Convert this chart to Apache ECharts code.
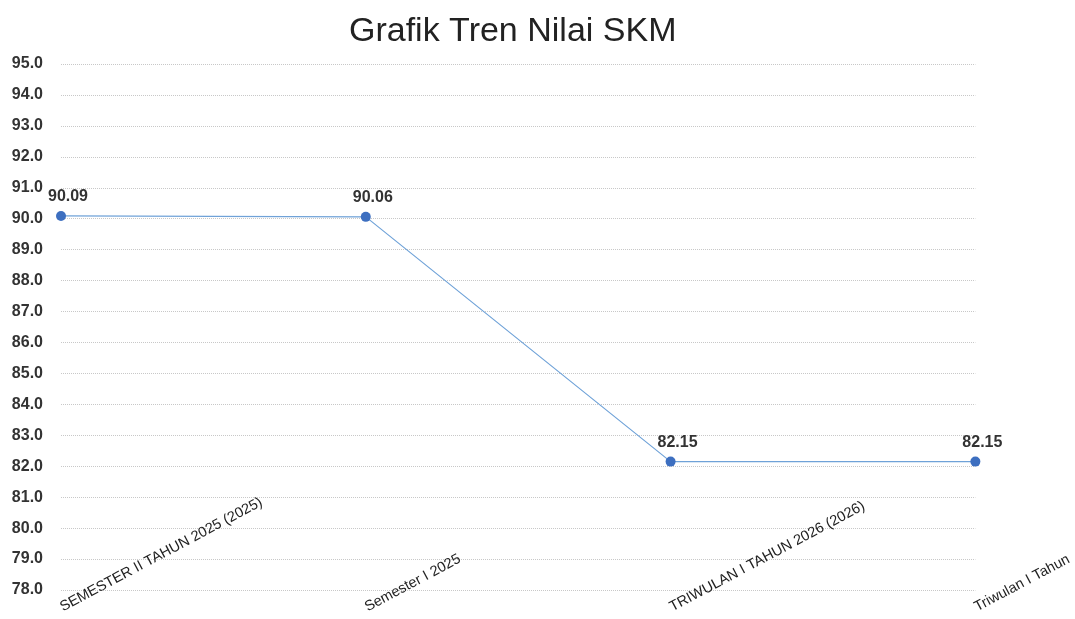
<!DOCTYPE html>
<html>
<head>
<meta charset="utf-8">
<script src="https://cdn.jsdelivr.net/npm/echarts@6/dist/echarts.min.js"></script>
<style>
  html, body { margin: 0; padding: 0; background: #fff; }
  #chart { width: 1075px; height: 619px; }
</style>
</head>
<body>
<div id="chart"></div>
<script>
  const categories = [
    "SEMESTER II TAHUN 2025 (2025)",
    "Semester I 2025",
    "TRIWULAN I TAHUN 2026 (2026)",
    "Triwulan I Tahun"
  ];
  const skmValues = [90.09, 90.06, 82.15, 82.15];
  const yMin = 78;
  const yMax = 95;

  let chart = echarts.init(document.getElementById('chart'));

  chart.setOption({
    animation: false,
    title: {
      text: "Grafik Tren Nilai SKM",
      left: 344,
      top: 10,
      textStyle: { fontFamily: 'Liberation Sans, Arial', fontSize: 34, fontWeight: 'normal', color: '#222' }
    },
    grid: { left: 61, right: 94, top: 64, bottom: 29, containLabel: false },
    xAxis: {
      type: 'category',
      boundaryGap: false,
      data: categories,
      axisLine: { show: false },
      axisTick: { show: false },
      axisLabel: {
        interval: 0,
        rotate: 28,
        align: 'left',
        verticalAlign: 'middle',
        margin: 18,
        fontFamily: 'Liberation Sans, Arial',
        fontSize: 14.5,
        color: '#222'
      }
    },
    yAxis: {
      type: 'value',
      min: yMin,
      max: yMax,
      interval: 1,
      axisLine: { show: false },
      axisTick: { show: false },
      axisLabel: {
        margin: 18,
        fontFamily: 'Liberation Sans, Arial',
        fontSize: 16,
        fontWeight: 'bold',
        color: '#333',
        formatter: v => v.toFixed(1)
      },
      splitLine: { lineStyle: { color: '#c8c8c8', type: 'dotted', width: 1 } }
    },
    series: [
      {
        name: 'SKM',
        type: 'line',
        data: skmValues,
        symbol: 'circle',
        symbolSize: 10,
        itemStyle: { color: '#3d6fc0' },
        lineStyle: { color: '#6fa2d8', width: 1.2 },
        label: {
          show: true,
          position: 'top',
          distance: 6,
          offset: [7, 0],
          fontFamily: 'Liberation Sans, Arial',
          fontSize: 16,
          fontWeight: 'bold',
          color: '#333',
          formatter: p => p.value.toFixed(2)
        }
      }
    ]
  });
</script>
</body>
</html>
